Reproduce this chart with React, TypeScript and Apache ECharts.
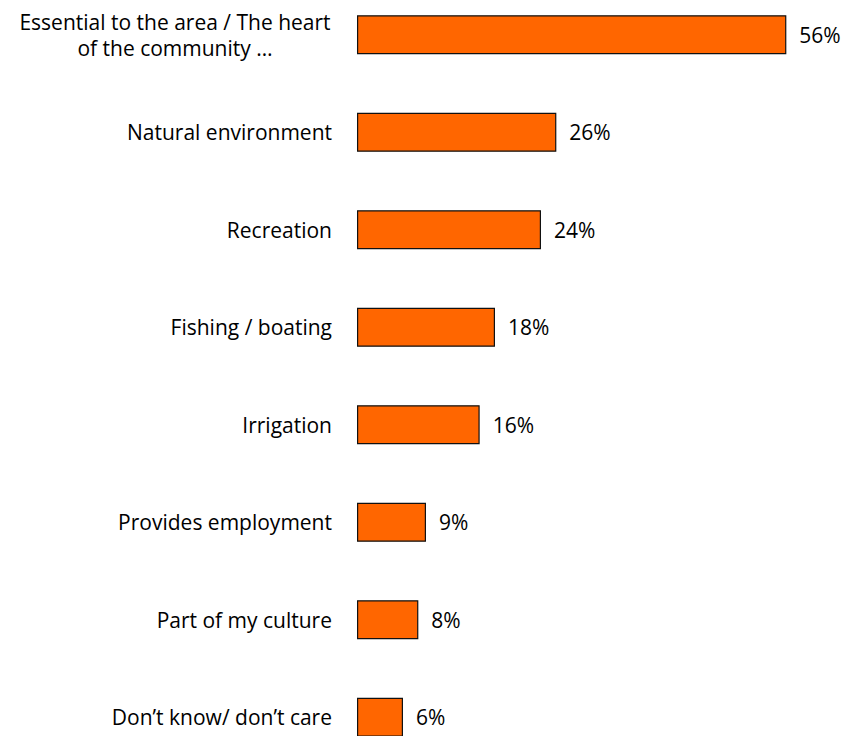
import React, { useEffect, useRef } from "react";
import * as echarts from "echarts";

const categories = [
  "Essential to the area / The heart\nof the community …",
  "Natural environment",
  "Recreation",
  "Fishing / boating",
  "Irrigation",
  "Provides employment",
  "Part of my culture",
  "Don’t know/ don’t care",
];
const values = [56, 26, 24, 18, 16, 9, 8, 6];

const FONT = "'Open Sans', 'Noto Sans', sans-serif";

export default function App() {
  const ref = useRef<HTMLDivElement>(null);
  useEffect(() => {
    if (!ref.current) return;
    const chart = echarts.init(ref.current, null, { renderer: "svg" });
    chart.setOption({
      animation: false,
      backgroundColor: "#ffffff",
      grid: { left: 357, top: 0, height: 780, width: 460, containLabel: false },
      xAxis: { type: "value", min: 0, max: 60, show: false },
      yAxis: {
        type: "category",
        inverse: true,
        data: categories,
        axisLine: { show: false },
        axisTick: { show: false },
        splitLine: { show: false },
        axisLabel: {
          margin: 25,
          fontSize: 21,
          fontFamily: FONT,
          color: "#000",
          lineHeight: 26,
          formatter: (v: string) => {
            if (v.indexOf("\n") >= 0) {
              return v
                .split("\n")
                .map((s) => "{c|" + s + "}")
                .join("\n");
            }
            return v;
          },
          rich: {
            c: {
              width: 314,
              align: "center",
              fontSize: 21,
              fontFamily: FONT,
              color: "#000",
              lineHeight: 26,
            },
          },
        },
      },
      series: [
        {
          type: "bar",
          data: values,
          barWidth: 39,
          itemStyle: { color: "#FF6600", borderColor: "#111", borderWidth: 1.2 },
          label: {
            show: true,
            position: "right",
            distance: 13,
            formatter: "{c}%",
            fontSize: 21,
            fontFamily: FONT,
            color: "#000",
          },
        },
      ],
    });
    return () => chart.dispose();
  }, []);
  return (
    <div
      style={{
        position: "fixed",
        left: 0,
        top: 0,
        width: 861,
        height: 736,
        overflow: "hidden",
        background: "#fff",
      }}
    >
      <div
        ref={ref}
        style={{ position: "absolute", left: 0, top: -14.5, width: 861, height: 780 }}
      />
    </div>
  );
}
